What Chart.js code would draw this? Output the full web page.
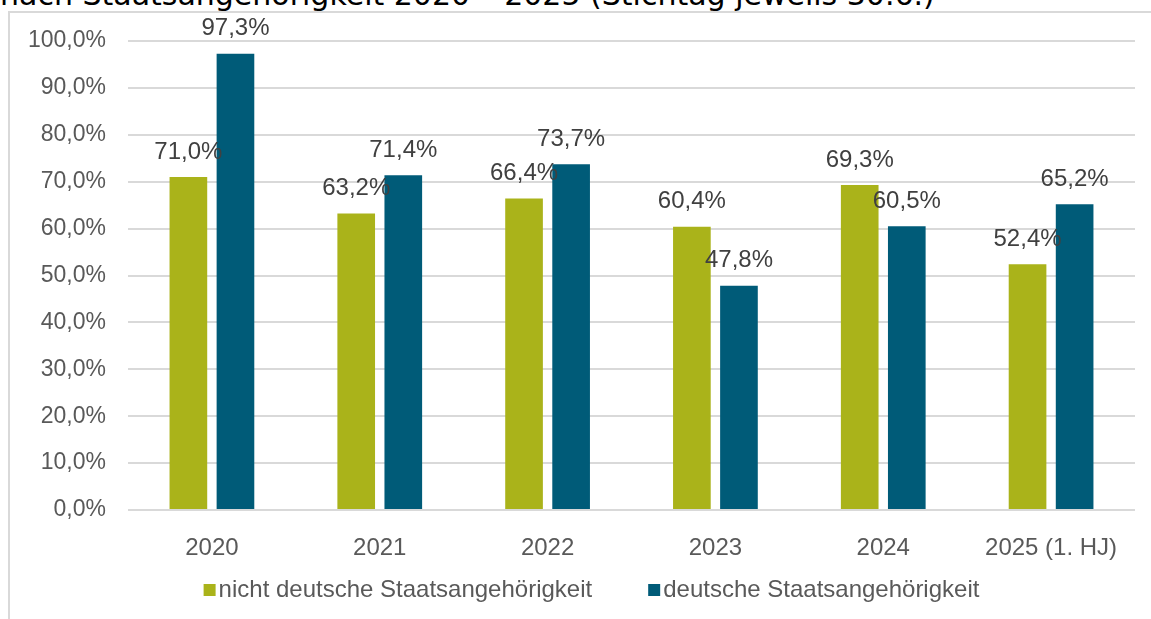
<!DOCTYPE html>
<html lang="de">
<head>
<meta charset="utf-8">
<title>Quote nach Staatsangehörigkeit</title>
<script src="https://cdn.jsdelivr.net/npm/chart.js@4.4.1/dist/chart.umd.min.js"></script>
<style>
  html, body { margin: 0; padding: 0; background: #fff; overflow: hidden; }
  #wrap { position: relative; width: 1151px; height: 619px; overflow: hidden; }
  #titel {
    position: absolute; left: 0; top: -20px;
    font: 30px "DejaVu Sans", Verdana, sans-serif; line-height: 30px;
    white-space: nowrap; color: #000;
  }
  #rahmen {
    position: absolute; left: 8px; top: 11px; width: 1200px; height: 700px;
    border: 2px solid #d9d9d9; box-sizing: border-box;
  }
  #grafik { position: absolute; left: 0; top: 0; }
</style>
</head>
<body>
<div id="wrap">
  <div id="titel">nach Staatsangehörigkeit 2020 – 2025 (Stichtag jeweils 30.6.)</div>
  <div id="rahmen"></div>
  <canvas id="grafik" width="1151" height="619"></canvas>
</div>
<script>
// Jahre und Anteile in Prozent
const jahre = ['2020', '2021', '2022', '2023', '2024', '2025 (1. HJ)'];
const nichtDeutsch = [71.0, 63.2, 66.4, 60.4, 69.3, 52.4];
const deutsch = [97.3, 71.4, 73.7, 47.8, 60.5, 65.2];
const serienNamen = ['nicht deutsche Staatsangehörigkeit', 'deutsche Staatsangehörigkeit'];
const farben = ['#aab31a', '#005b78'];

const schrift = '"Liberation Sans", Arial, sans-serif';

// Zahl im deutschen Format: 71,0%
function prozent(v) {
  return v.toFixed(1).replace('.', ',') + '%';
}

// Werte über die Balken schreiben
const wertLabels = {
  id: 'wertLabels',
  afterDatasetsDraw(chart) {
    const ctx = chart.ctx;
    ctx.save();
    ctx.font = '24px ' + schrift;
    ctx.fillStyle = '#404040';
    ctx.textAlign = 'center';
    ctx.textBaseline = 'middle';
    chart.data.datasets.forEach((ds, i) => {
      chart.getDatasetMeta(i).data.forEach((bar, j) => {
        ctx.fillText(prozent(ds.data[j]), bar.x, bar.y - 25);
      });
    });
    ctx.restore();
  }
};

// Legende unten: kleines Quadrat dicht vor dem Text, großer Abstand zwischen den Einträgen
const legendeUnten = {
  id: 'legendeUnten',
  afterDraw(chart) {
    const ctx = chart.ctx;
    const box = 12, luecke = 3, abstand = 56;
    ctx.save();
    ctx.font = '24px ' + schrift;
    ctx.textBaseline = 'middle';
    ctx.textAlign = 'left';
    const items = chart.data.datasets.map(ds => ({
      text: ds.label,
      farbe: ds.backgroundColor,
      breite: box + luecke + ctx.measureText(ds.label).width
    }));
    const gesamt = items.reduce((s, it) => s + it.breite, 0) + abstand * (items.length - 1);
    const mitte = (chart.chartArea.left + chart.chartArea.right) / 2 - 40;
    let x = mitte - gesamt / 2;
    const y = 590;
    items.forEach(it => {
      ctx.fillStyle = it.farbe;
      ctx.fillRect(x, y - box / 2, box, box);
      ctx.fillStyle = '#595959';
      ctx.fillText(it.text, x + box + luecke, y);
      x += it.breite + abstand;
    });
    ctx.restore();
  }
};

new Chart(document.getElementById('grafik'), {
  type: 'bar',
  data: {
    labels: jahre,
    datasets: [
      {
        label: serienNamen[0],
        data: nichtDeutsch,
        backgroundColor: farben[0],
        categoryPercentage: 0.561,
        barPercentage: 0.8
      },
      {
        label: serienNamen[1],
        data: deutsch,
        backgroundColor: farben[1],
        categoryPercentage: 0.561,
        barPercentage: 0.8
      }
    ]
  },
  options: {
    responsive: false,
    animation: false,
    layout: { padding: { left: 10, right: 16, top: 41, bottom: 0 } },
    plugins: {
      tooltip: { enabled: false },
      legend: { display: false }
    },
    scales: {
      x: {
        grid: { display: false },
        border: { display: false },
        ticks: {
          color: '#595959',
          padding: 16,
          font: { family: schrift, size: 24 }
        },
        afterFit: s => { s.height = 109; }
      },
      y: {
        min: 0,
        max: 100,
        grid: { color: '#d9d9d9', lineWidth: 2, drawTicks: false },
        border: { display: false },
        ticks: {
          stepSize: 10,
          color: '#595959',
          padding: 22,
          font: { family: schrift, size: 23 },
          callback: v => prozent(v)
        },
        afterFit: s => { s.width = 118; }
      }
    }
  },
  plugins: [wertLabels, legendeUnten]
});
</script>
</body>
</html>
